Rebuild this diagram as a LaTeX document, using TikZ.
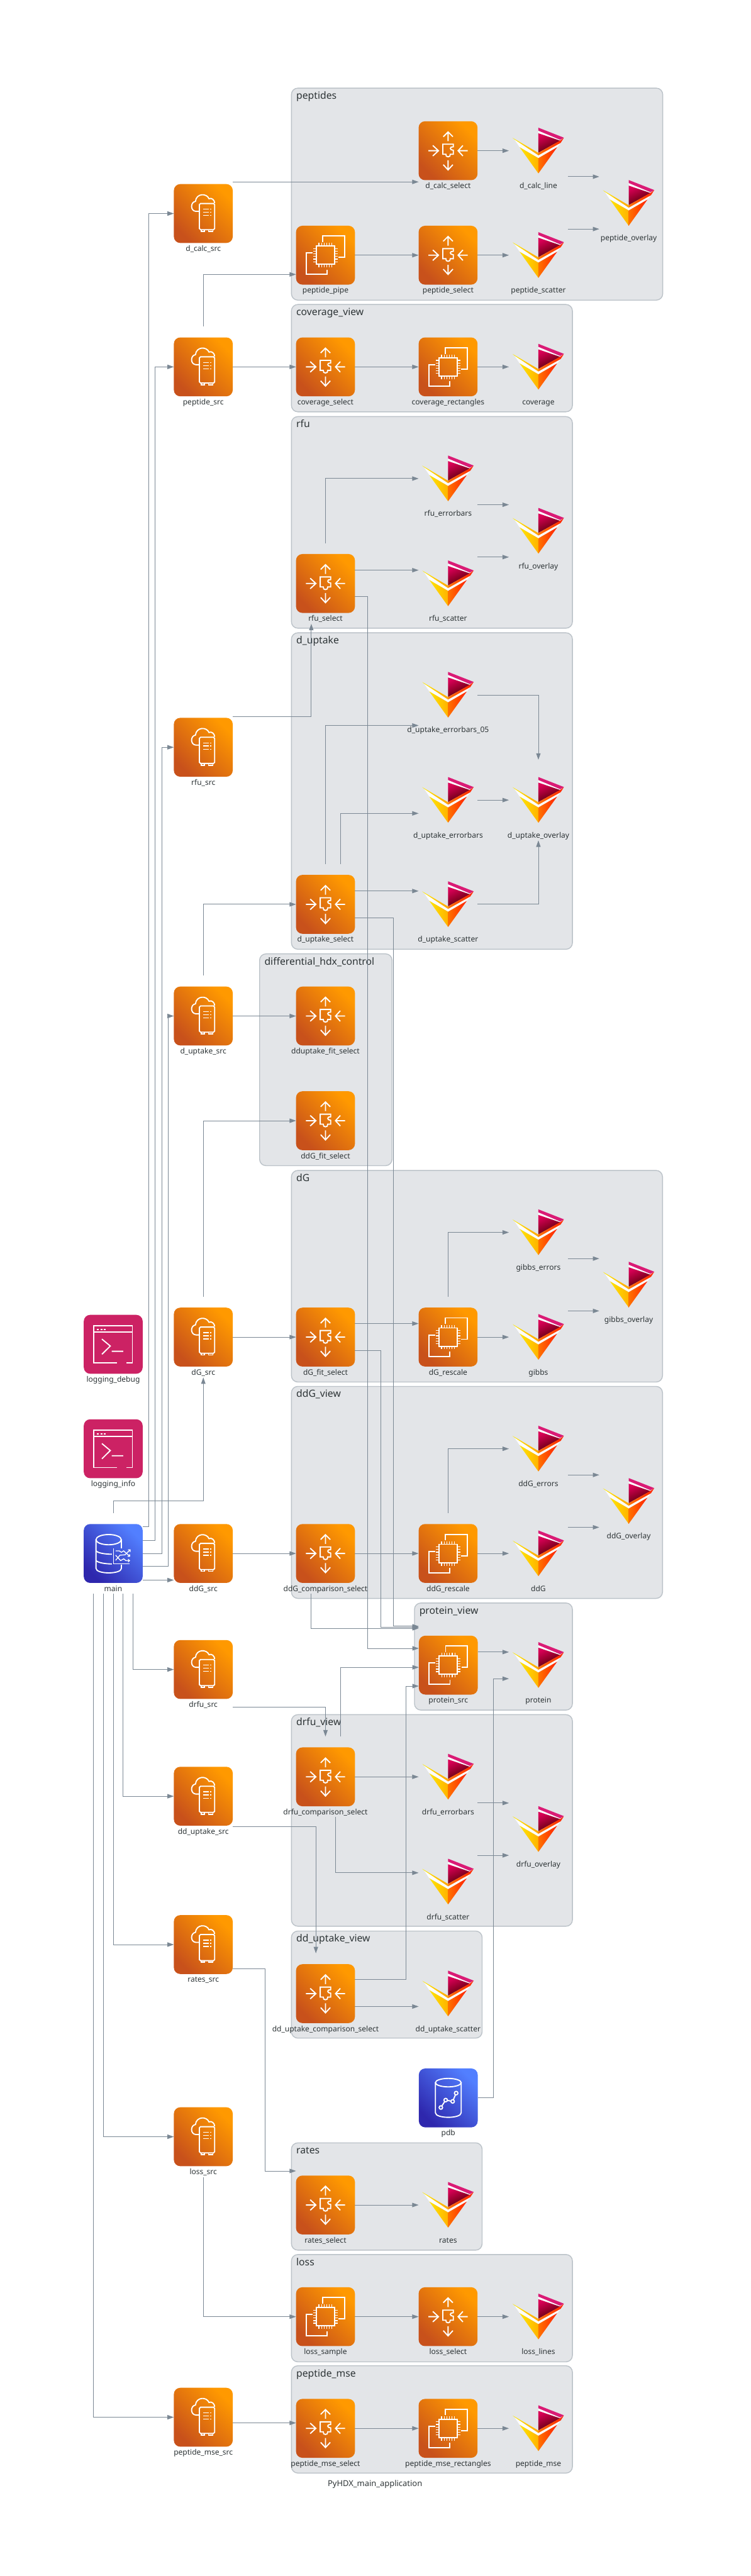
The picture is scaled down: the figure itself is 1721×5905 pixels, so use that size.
\documentclass[tikz,border=0pt]{standalone}
\usepackage{fontspec}
\setmainfont{Noto Sans}
\usetikzlibrary{arrows.meta,calc}
\definecolor{linegray}{HTML}{7B8894}
\definecolor{textdark}{HTML}{2D3436}
\definecolor{clusterfill}{HTML}{E3E5E8}
\definecolor{clusteredge}{HTML}{BBC2C8}
\definecolor{orangelo}{HTML}{C8511B}
\definecolor{orangehi}{HTML}{FF9900}
\definecolor{bluelo}{HTML}{2E27AD}
\definecolor{bluehi}{HTML}{527FFF}
\definecolor{termpink}{HTML}{CC2264}
\tikzset{
  flow/.style={draw=linegray, line width=1pt, -{Triangle[length=11pt,width=7.5pt]}},
  glyph/.style={draw=white, line width=2pt},
  holder/.style={minimum width=101.25pt, minimum height=138.75pt, inner sep=0pt, outer sep=0pt},
  nodetext/.style={anchor=base, text=textdark, font=\fontsize{13}{15}\selectfont, inner sep=0pt},
  clustertext/.style={anchor=base west, text=textdark, font=\fontsize{17}{20}\selectfont, inner sep=0pt},
  clusterbox/.style={draw=clusteredge, fill=clusterfill, line width=1.5pt, rounded corners=11pt},
  tile/.style={rounded corners=11pt},
  orangetile/.style={tile, bottom color=orangelo, top color=orangehi, shading angle=-45},
  bluetile/.style={tile, bottom color=bluelo, top color=bluehi, shading angle=-45},
  pics/selecticon/.style={code={
    \shade[orangetile] (-67.5,-67.5) rectangle (67.5,67.5);
    % four arrows round the puzzle piece
    \draw[glyph] (0,-22) -- (0,-43) (-11,-32) -- (0,-43) -- (11,-32);
    \draw[glyph] (0,22) -- (0,44) (-11,32) -- (0,44) -- (11,32);
    \draw[glyph] (-45,0) -- (-22,0) (-35,-12) -- (-22,0) -- (-35,12);
    \draw[glyph] (45,0) -- (23,0) (34,-12) -- (23,0) -- (34,12);
    \draw[glyph] (-12,-15) -- (12,-15) -- (12,-9) .. controls (3,-10) and (3,-1) .. (12,-1)
      -- (12,8) -- (5,8) .. controls (7,16) and (-7,16) .. (-5,8) -- (-12,8) -- cycle;
  }},
  pics/chipicon/.style={code={
    \shade[orangetile] (-67.5,-67.5) rectangle (67.5,67.5);
    \draw[glyph] (-6,-30) -- (-6,-44) -- (44,-44) -- (44,5) -- (30,5);
    \draw[glyph] (-30,-5) -- (-44,-5) -- (-44,44) -- (4,44) -- (4,33);
    \draw[glyph] (-21,-21) rectangle (21,21);
    \foreach \t in {-15,-9,-3,3,9,15} {
      \draw[white, line width=1.3pt] (\t,-21) -- (\t,-28) (\t,21) -- (\t,28) (-21,\t) -- (-28,\t) (21,\t) -- (28,\t);
    }
  }},
  pics/srcicon/.style={code={
    \shade[orangetile] (-67.5,-67.5) rectangle (67.5,67.5);
    \draw[glyph, rounded corners=2pt] (-9,-23) rectangle (26,37);
    \draw[glyph] (-5,37) -- (-5,41) -- (3,41) -- (3,37) (12,37) -- (12,41) -- (22,41) -- (22,37);
    \draw[glyph] (-9,-5) -- (-17,-5) .. controls (-30,-6) and (-30,-26) .. (-18,-28)
      .. controls (-16,-47) and (8,-47) .. (13,-34) .. controls (19,-37) and (26,-31) .. (26,-24);
    \foreach \t in {-10,-3,4.5} {
      \draw[white, line width=1.6pt] (0,\t) -- (13,\t) (16,\t) -- (18,\t);
    }
  }},
  pics/termicon/.style={code={
    \fill[termpink, tile] (-67.5,-67.5) rectangle (67.5,67.5);
    \draw[glyph] (8.7,43) -- (-44.7,43) -- (-44.7,-43) -- (44,-43) -- (44,43) -- (30.7,43);
    \draw[glyph] (-44.7,-28) -- (44,-28);
    \draw[glyph] (-26,-12) -- (-6.7,4) -- (-26,23) (-3.3,16) -- (23,16);
    \foreach \t in {-37,-29,-22} { \fill[white] (\t,-36) rectangle ++(4,4); }
  }},
  pics/mainicon/.style={code={
    \shade[bluetile] (-67.5,-67.5) rectangle (67.5,67.5);
    \draw[glyph] (-10.5,-31.7) ellipse (29 and 11.7);
    \draw[glyph] (-39.5,-31.7) -- (-39.5,34) .. controls (-39.5,48) and (18.8,48) .. (18.8,34) -- (18.8,25.7);
    \draw[glyph] (18.8,-31.7) -- (18.8,-11.7);
    \draw[glyph] (-39.5,-6) .. controls (-34,0) and (-15,1.7) .. (-3,1.7);
    \draw[glyph] (-39.5,16.3) .. controls (-34,22) and (-15,24) .. (-3,24);
    \draw[glyph, line width=1.5pt] (0.5,-11) -- (0.5,24) -- (38,24);
    \draw[white, line width=1.4pt, -{Straight Barb[length=2.5pt,width=5pt]}] (5.5,-6) -- (13.8,-6) -- (18.8,-2.7) -- (23.8,-6) -- (38.8,7.3);
    \draw[white, line width=1.4pt, -{Straight Barb[length=2.5pt,width=5pt]}] (5.5,15.7) -- (15.5,4) -- (27,3) -- (39.8,-9.3);
    \draw[white, line width=1.4pt, -{Straight Barb[length=2.5pt,width=5pt]}] (5.5,4) -- (17,16.3) -- (24,12.3) -- (29,16.3) -- (38.8,16.3);
  }},
  pics/pdbicon/.style={code={
    \shade[bluetile] (-67.5,-67.5) rectangle (67.5,67.5);
    \draw[glyph] (0,-35) ellipse (29.5 and 9.7);
    \draw[glyph] (-29.5,-35) -- (-29.5,34) .. controls (-29.5,48) and (29.5,48) .. (29.5,34) -- (29.5,-35);
    \draw[glyph] (-17,22) -- (-6,5) -- (10,8) -- (18,-11);
    \foreach \p in {(-17,22),(-6,5),(10,8),(18,-11)} { \filldraw[glyph, fill=bluelo!60!bluehi] \p circle (3pt); }
  }},
  pics/charticon/.style={code={
    \fill[white!90!clusterfill] (0,-46) -- (50,-25) -- (50,-23) -- (0,-40) -- cycle;
    \fill[white!90!clusterfill] (0,10.5) -- (51,-18) -- (43,-8) -- (0,17) -- (-43,-8) -- (-55,-26) -- cycle;
    \fill[magenta!80!red!90!black] (0,-52.8) -- (58.7,-29.8) -- (50,-25) -- (0,-46) -- cycle;
    \shade[top color=red!60!magenta!85!black, bottom color=black!70!red, shading angle=25] (0,-40) -- (50,-23) -- (0,4.5) -- cycle;
    \shade[left color=orange!90!red, right color=red!75!orange] (0,5) -- (51,-24) -- (58.7,-29.8) -- (51,-18) -- (0,10.5) -- cycle;
    \shade[left color=yellow!85!orange, right color=orange!70!yellow] (-59,-29.5) -- (0,5) -- (0,10.5) -- (-55,-26) -- cycle;
    \shade[left color=yellow!80!orange, right color=orange!60!yellow] (-43,-8) -- (0,17) -- (0,52) -- cycle;
    \shade[left color=orange!90!red, right color=red!75!orange] (43,-8) -- (0,17) -- (0,52) -- cycle;
  }}
}
% node with its icon and the name under it
\newcommand{\placebox}[1]{%
  \node[holder] (\name) at (\cx,\cy) {};
  \pic at (\cx,\cy) {#1};
  \node[nodetext] (\name_lbl) at ({\cx},{\cy+86.5}) {\detokenize\expandafter{\name}};
}
\begin{document}
\begin{tikzpicture}[x=0.75pt,y=-0.75pt]
\useasboundingbox (0,0) rectangle (1721,5905);
% Cluster backgrounds
\foreach \name/\xa/\ya/\xb/\yb in {peptides/668/202/1519/688, coverage_view/668/698/1312/944,
  rfu/668/955/1312/1440, d_uptake/668/1450.5/1312/2176,
  differential_hdx_control/595/2186.5/898.5/2672, dG/668/2683/1518.5/3168,
  ddG_view/668/3178/1518.5/3664, protein_view/950/3674.5/1312/3920,
  drfu_view/668/3930.5/1312/4415.5, dd_uptake_view/668/4426.5/1105/4672,
  rates/668/4912/1105/5158, loss/668/5168/1312/5414, peptide_mse/668/5423/1312/5669} {
  \draw[clusterbox] (\xa,\ya) rectangle (\xb,\yb);
  \node[clustertext] (\name_cl) at ({\xa+11},{\ya+25}) {\detokenize\expandafter{\name}};
}
% Source nodes
\foreach \name/\cx/\cy in {d_calc_src/466/489.5, peptide_src/466/841, rfu_src/466/1713,
  d_uptake_src/466/2329, dG_src/466/3065, ddG_src/466/3561, drfu_src/466/3827,
  dd_uptake_src/466/4117.5, rates_src/466/4457.5, loss_src/466/4898, peptide_mse_src/466/5541}
  {\placebox{srcicon}}
% Select nodes
\foreach \name/\cx/\cy in {d_calc_select/1027/345.5, peptide_select/1027/585, coverage_select/746/841,
  rfu_select/746/1337.5, d_uptake_select/746/2073, dduptake_fit_select/746/2329,
  ddG_fit_select/746/2569, dG_fit_select/746/3065, ddG_comparison_select/746/3561,
  drfu_comparison_select/746/4073, dd_uptake_comparison_select/746/4570, rates_select/746/5054.5,
  loss_select/1027/5310.5, peptide_mse_select/746/5566.5}
  {\placebox{selecticon}}
% Transform nodes
\foreach \name/\cx/\cy in {peptide_pipe/746/585, coverage_rectangles/1027/841, dG_rescale/1027/3065,
  ddG_rescale/1027/3561, protein_src/1027.5/3817, loss_sample/746/5310.5, peptide_mse_rectangles/1027/5566.5}
  {\placebox{chipicon}}
% Charts
\foreach \name/\cx/\cy in {d_calc_line/1234/345.5, peptide_scatter/1234/585, peptide_overlay/1441/465.5,
  coverage/1234/841, rfu_errorbars/1027/1097, rfu_scatter/1027/1337.5, rfu_overlay/1234/1217,
  d_uptake_errorbars_05/1027/1593, d_uptake_errorbars/1027/1834, d_uptake_overlay/1234/1834,
  d_uptake_scatter/1027/2073, gibbs_errors/1234/2825, gibbs/1234/3065, gibbs_overlay/1441/2945,
  ddG_errors/1234/3321, ddG/1234/3561, ddG_overlay/1441/3441, protein/1234/3817,
  drfu_errorbars/1027/4073, drfu_scatter/1027/4313.5, drfu_overlay/1234/4193,
  dd_uptake_scatter/1027/4570, rates/1027/5054.5, loss_lines/1234/5310.5, peptide_mse/1234/5566.5}
  {\placebox{charticon}}
% Main, logging and pdb
\foreach \name/\cx/\cy in {logging_debug/259.5/3081.5, logging_info/259.5/3321} {\placebox{termicon}}
\foreach \name/\cx/\cy in {main/259.5/3561} {\placebox{mainicon}}
\foreach \name/\cx/\cy in {pdb/1027.5/4809} {\placebox{pdbicon}}
\node[nodetext, font=\fontsize{14}{16}\selectfont] (app_title) at (859.5,5700) {PyHDX\_main\_application};
% Straight edges
\foreach \from/\to in {peptide_src/coverage_select, peptide_pipe/peptide_select,
  peptide_select/peptide_scatter, d_calc_select/d_calc_line, coverage_select/coverage_rectangles,
  coverage_rectangles/coverage, d_uptake_src/dduptake_fit_select, d_uptake_errorbars/d_uptake_overlay,
  dG_src/dG_fit_select, dG_rescale/gibbs, ddG_src/ddG_comparison_select,
  ddG_comparison_select/ddG_rescale, ddG_rescale/ddG, drfu_comparison_select/drfu_errorbars,
  rates_select/rates, loss_sample/loss_select, loss_select/loss_lines,
  peptide_mse_select/peptide_mse_rectangles, peptide_mse_rectangles/peptide_mse}
  \draw[flow] (\from.east) -- (\to.west);
% Straight edges between side ports
\foreach \from/\to/\dya/\dyb in {d_calc_src/d_calc_select/-72.5/71.5, d_calc_line/peptide_overlay/59.5/-60.5,
  peptide_scatter/peptide_overlay/-60/59.5, rfu_select/rfu_scatter/-30.5/-30.5,
  rfu_errorbars/rfu_overlay/60/-60, rfu_scatter/rfu_overlay/-60.5/60,
  d_uptake_select/d_uptake_scatter/-30.5/-30.5, dG_fit_select/dG_rescale/-31/-31,
  gibbs_errors/gibbs_overlay/60/-60, gibbs/gibbs_overlay/-60/60,
  ddG_errors/ddG_overlay/60/-60, ddG/ddG_overlay/-60/60, protein_src/protein/-30/-30,
  drfu_errorbars/drfu_overlay/60/-60, drfu_scatter/drfu_overlay/-60.5/60,
  dd_uptake_comparison_select/dd_uptake_scatter/29.5/29.5, peptide_mse_src/peptide_mse_select/13/-12.5,
  main/ddG_src/61/61}
  \draw[flow] ($(\from.east)+(0,\dya)$) -- ($(\to.west)+(0,\dyb)$);
% Edges out of main
\foreach \to/\dy/\dx in {d_calc_src/-61/-58, peptide_src/-30/-42.5, rfu_src/0/-28, d_uptake_src/30/-13.5}
  \draw[flow] ($(main.east)+(0,\dy)$) -| ($(\to.west)+(\dx,0)$) -- (\to.west);
\foreach \to/\dx in {drfu_src/45.5, dd_uptake_src/23, rates_src/0, loss_src/-22.5, peptide_mse_src/-45}
  \draw[flow] ($(main.south)+(\dx,0)$) |- (\to.west);
\draw[flow] (main.north) -- ++(0,-28) -| (dG_src.south);
% Edges with one bend, out of a node top
\foreach \from/\to in {rfu_select/rfu_errorbars, d_uptake_src/d_uptake_select, dG_src/ddG_fit_select,
  dG_rescale/gibbs_errors, ddG_rescale/ddG_errors}
  \draw[flow] (\from.north) |- (\to.west);
\draw[flow] (peptide_src.north) |- ($(peptide_pipe.west)+(0,44)$);
\draw[flow] (d_uptake_select.north) |- ($(d_uptake_errorbars_05.west)+(0,70)$);
\draw[flow] ($(d_uptake_select.north)+(34,0)$) |- ($(d_uptake_errorbars.west)+(0,30.5)$);
\draw[flow] (d_uptake_errorbars_05.east) -| (d_uptake_overlay.north);
\draw[flow] (d_uptake_scatter.east) -| (d_uptake_overlay.south);
\draw[flow] ($(rfu_src.east)+(0,-70)$) -| ($(rfu_select.south)+(-32.5,0)$);
\draw[flow] ($(drfu_src.east)+(0,86)$) -| (drfu_comparison_select.north);
\draw[flow] ($(drfu_comparison_select.south)+(23.5,0)$) |- ($(drfu_scatter.west)+(0,-20.5)$);
\draw[flow] ($(dd_uptake_src.east)+(0,69)$) -| ($(dd_uptake_comparison_select.north)+(-22,0)$);
\draw[flow] (loss_src.south) |- (loss_sample.west);
\draw[flow] ($(rates_src.east)+(0,55.5)$) -- ++(73.5,0) |- ($(rates_select.west)+(0,-78)$);
% Edges into protein_src
\draw[flow] ($(rfu_select.east)+(0,29.5)$) -- ++(29.5,0) |- ($(protein_src.west)+(0,-38.5)$);
\draw[flow] ($(d_uptake_select.east)+(0,31)$) -- ++(88,0) |- ($(protein_src.west)+(0,-89)$);
\draw[flow] ($(dG_fit_select.east)+(0,31)$) -- ++(59,0) |- ($(protein_src.west)+(0,-87)$);
\draw[flow] ($(ddG_comparison_select.south)+(-32.5,0)$) |- ($(protein_src.west)+(0,-84.5)$);
\draw[flow] ($(drfu_comparison_select.north)+(34,0)$) |- ($(protein_src.west)+(0,5)$);
\draw[flow] ($(dd_uptake_comparison_select.east)+(0,-32)$) -- ++(117.5,0) |- ($(protein_src.west)+(0,48)$);
\draw[flow] (pdb.east) -- ++(35.5,0) |- ($(protein.west)+(0,31)$);
\end{tikzpicture}
\end{document}
